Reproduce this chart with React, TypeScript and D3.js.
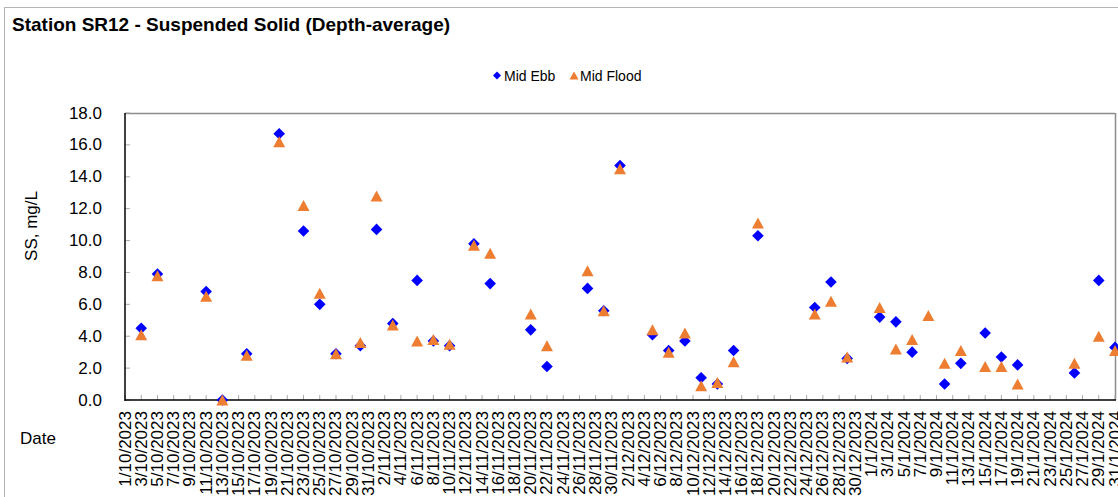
import React from "react";
import * as d3 from "d3";

const dates = [
  "3/10/2023", "5/10/2023", "11/10/2023", "13/10/2023", "16/10/2023", "20/10/2023", "23/10/2023", "25/10/2023", "27/10/2023", "30/10/2023",
  "1/11/2023", "3/11/2023", "6/11/2023", "8/11/2023", "10/11/2023", "13/11/2023", "15/11/2023", "20/11/2023", "22/11/2023", "27/11/2023", "29/11/2023",
  "1/12/2023", "5/12/2023", "7/12/2023", "9/12/2023", "11/12/2023", "13/12/2023", "15/12/2023", "18/12/2023", "25/12/2023", "27/12/2023", "29/12/2023",
  "2/1/2024", "4/1/2024", "6/1/2024", "8/1/2024", "10/1/2024", "12/1/2024", "15/1/2024", "17/1/2024", "19/1/2024", "26/1/2024", "29/1/2024", "31/1/2024",
];

const midEbb: (number | null)[] = [
  4.5, 7.9, 6.8, 0.0, 2.9, 16.7, 10.6, 6.0, 2.9, 3.4,
  10.7, 4.8, 7.5, 3.7, 3.4, 9.8, 7.3, 4.4, 2.1, 7.0, 5.6,
  14.7, 4.1, 3.1, 3.7, 1.4, 1.0, 3.1, 10.3, 5.8, 7.4, 2.6,
  5.2, 4.9, 3.0, null, 1.0, 2.3, 4.2, 2.7, 2.2, 1.7, 7.5, 3.3,
];

const midFlood: (number | null)[] = [
  4.1, 7.8, 6.5, 0.0, 2.8, 16.2, 12.2, 6.7, 2.9, 3.6,
  12.8, 4.7, 3.7, 3.8, 3.5, 9.7, 9.2, 5.4, 3.4, 8.1, 5.6,
  14.5, 4.4, 3.0, 4.2, 0.9, 1.1, 2.4, 11.1, 5.4, 6.2, 2.7,
  5.8, 3.2, 3.8, 5.3, 2.3, 3.1, 2.1, 2.1, 1.0, 2.3, 4.0, 3.1,
];

const yTicks = [0, 2, 4, 6, 8, 10, 12, 14, 16, 18];
const xStart = "1/10/2023";
const xEnd = "31/1/2024";
const tickEveryDays = 2;

const parse = d3.utcParse("%d/%m/%Y");
const fmt = (d: Date) => `${d.getUTCDate()}/${d.getUTCMonth() + 1}/${d.getUTCFullYear()}`;

const FONT = "Arial, 'Liberation Sans', sans-serif";

export default function App() {
  const W = 1118, H = 497;
  const left = 125, right = 1115, top = 113, bottom = 400;
  const x = d3.scaleUtc().domain([parse(xStart)!, parse(xEnd)!]).range([left, right]);
  const y = d3.scaleLinear().domain([0, 18]).range([bottom, top]);
  const xTicks = d3.utcDay.every(1)!
    .range(parse(xStart)!, d3.utcDay.offset(parse(xEnd)!, 1))
    .filter((_, i) => i % tickEveryDays === 0);

  const diamond = (cx: number, cy: number, r = 5.8) =>
    `M${cx},${cy - r}L${cx + r},${cy}L${cx},${cy + r}L${cx - r},${cy}Z`;
  const triangle = (cx: number, cy: number, w = 12, h = 11) =>
    `M${cx},${cy - h / 2}L${cx + w / 2},${cy + h / 2}L${cx - w / 2},${cy + h / 2}Z`;

  return (
    <svg width={W} height={H} style={{ position: "absolute", left: 0, top: 0, background: "#fff" }} fontFamily={FONT}>
      <rect x={0} y={0} width={W} height={H} fill="#fff" />
      <rect x={4.5} y={7.5} width={W + 20} height={H + 20} fill="none" stroke="#b4b4b4" strokeWidth={1} />
      <text x={12} y={31} fontSize={19} fontWeight="bold" fill="#000">
        Station SR12 - Suspended Solid (Depth-average)
      </text>

      {/* legend */}
      <path d={diamond(497, 75.5, 4)} fill="#0000FF" />
      <text x={504} y={75.5} fontSize={14} dominantBaseline="central" fill="#000">Mid Ebb</text>
      <path d={triangle(574, 75.5, 9, 8)} fill="#ED7D31" />
      <text x={580} y={75.5} fontSize={14} dominantBaseline="central" fill="#000">Mid Flood</text>

      {/* plot frame */}
      <line x1={left} y1={top + 0.5} x2={right} y2={top + 0.5} stroke="#8c8c8c" strokeWidth={1.5} />
      <line x1={right + 0.5} y1={top} x2={right + 0.5} y2={bottom} stroke="#8c8c8c" strokeWidth={1.5} />

      {/* y ticks */}
      {yTicks.map((t) => (
        <g key={"y" + t}>
          <line x1={left} x2={left + 5} y1={y(t)} y2={y(t)} stroke="#aaa" strokeWidth={1} />
          <text x={102} y={y(t)} fontSize={17} textAnchor="end" dominantBaseline="central" fill="#000">
            {t.toFixed(1)}
          </text>
        </g>
      ))}

      {/* x ticks */}
      {xTicks.map((d, i) => (
        <g key={"x" + i}>
          <line x1={x(d)} x2={x(d)} y1={bottom} y2={bottom - 5} stroke="#aaa" strokeWidth={1} />
          <text
            transform={`translate(${x(d)},${411}) rotate(-90)`}
            fontSize={17}
            textAnchor="end"
            dominantBaseline="central"
            fill="#000"
          >
            {fmt(d)}
          </text>
        </g>
      ))}

      <line x1={left} y1={top} x2={left} y2={bottom + 1} stroke="#000" strokeWidth={1.5} />
      <line x1={left} y1={bottom} x2={right + 1} y2={bottom} stroke="#000" strokeWidth={1.5} />

      {/* axis titles */}
      <text transform={`translate(31,226) rotate(-90)`} fontSize={17} textAnchor="middle" dominantBaseline="central" fill="#000">
        SS, mg/L
      </text>
      <text x={20} y={438} fontSize={17} dominantBaseline="central" fill="#000">Date</text>

      {/* series */}
      <g>
        {dates.map((ds, i) =>
          midEbb[i] == null ? null : (
            <path key={"e" + i} d={diamond(x(parse(ds)!), y(midEbb[i] as number))} fill="#0000FF" />
          )
        )}
      </g>
      <g>
        {dates.map((ds, i) =>
          midFlood[i] == null ? null : (
            <path key={"f" + i} d={triangle(x(parse(ds)!), y(midFlood[i] as number))} fill="#ED7D31" />
          )
        )}
      </g>
    </svg>
  );
}
